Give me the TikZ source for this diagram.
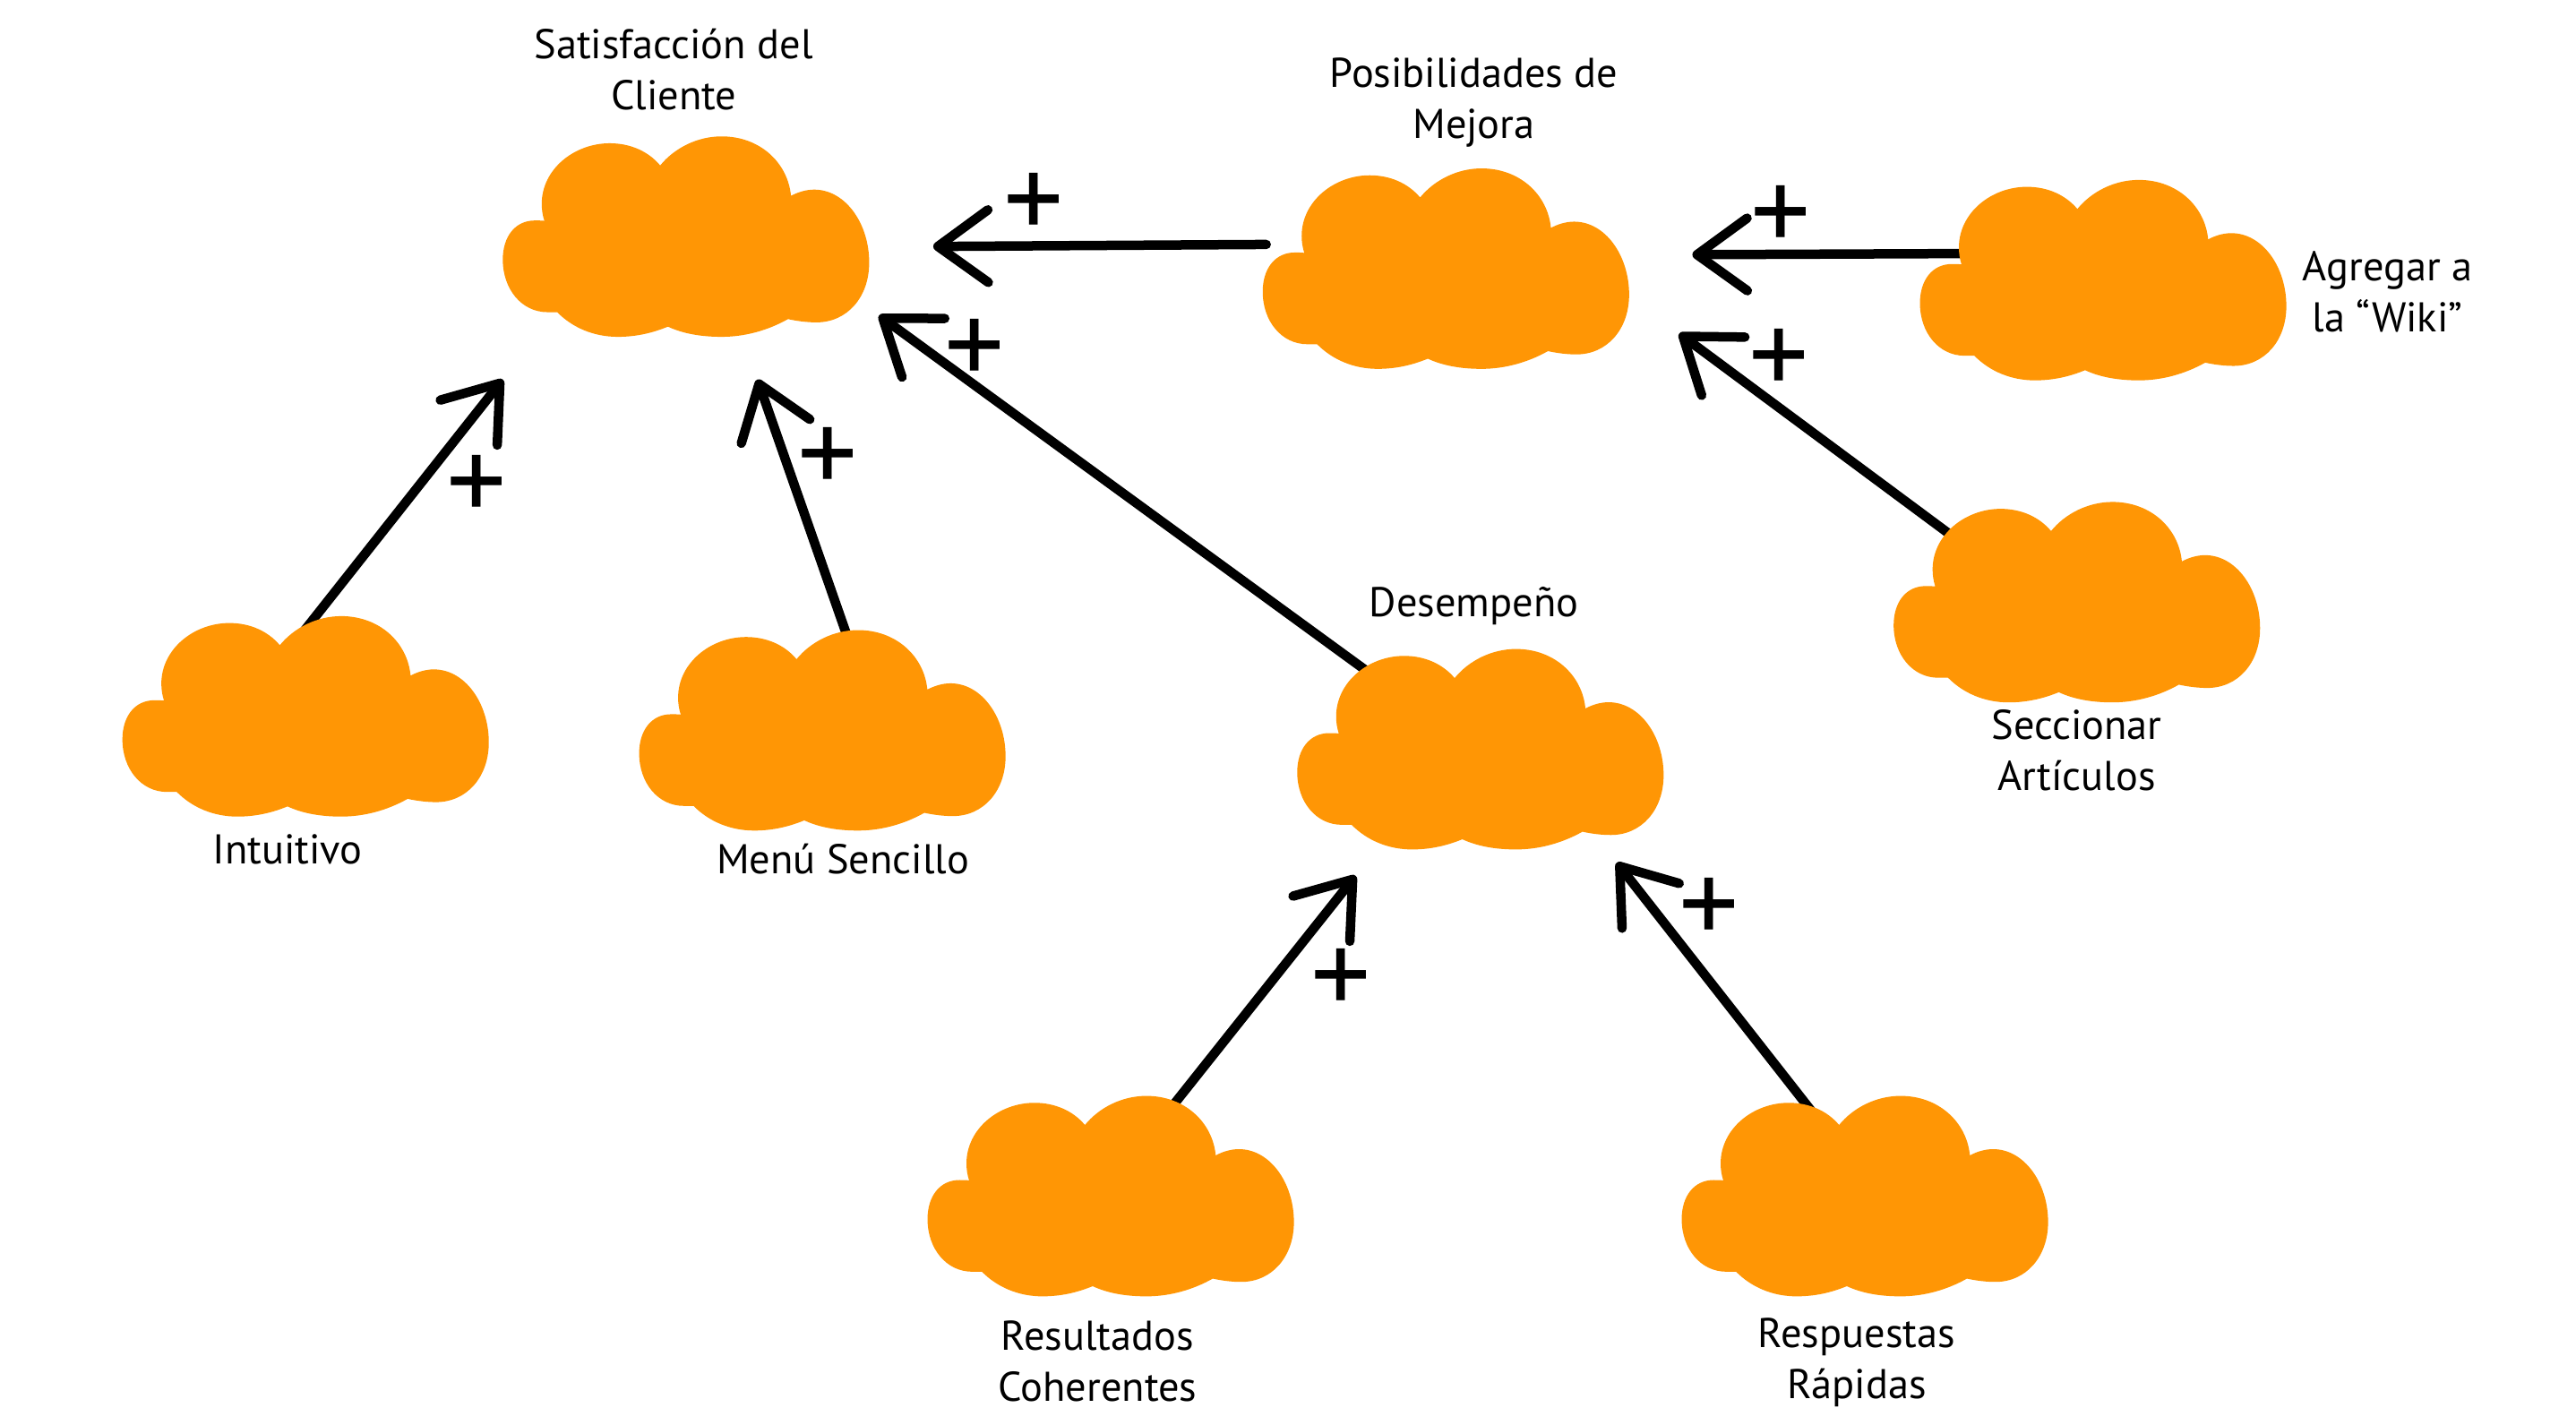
\documentclass[tikz,border=0pt]{standalone}
\usepackage{fontspec}
\setmainfont{PT Sans}
\usetikzlibrary{arrows.meta,backgrounds}
\definecolor{cloudorange}{HTML}{FF9605}
\newcommand{\blob}[3]{%
  \fill[cloudorange,shift={(#2,#3)}] (-86.2,-9.6)
    .. controls (-87.3,-13) and (-87.8,-16.5) .. (-87.8,-19.9)
    .. controls (-87.8,-41) and (-68,-56.8) .. (-46.4,-56.8)
    .. controls (-34,-56.8) and (-23,-52) .. (-15.7,-43.3)
    .. controls (-7,-54) and (7,-61) .. (21.7,-61)
    .. controls (45,-61) and (62,-45) .. (63.9,-24.8)
    .. controls (68,-27) and (73,-28.6) .. (78,-28.6)
    .. controls (97,-28.6) and (111.5,-8) .. (111.5,15.8)
    .. controls (111.5,37) and (98,52.2) .. (79.4,52.2)
    .. controls (74,52.2) and (68,51.5) .. (62.1,50.2)
    .. controls (50,57) and (36,61) .. (21.7,61)
    .. controls (9,61) and (-2,59) .. (-11,54.8)
    .. controls (-20,58.5) and (-30,61) .. (-41.5,61)
    .. controls (-56,61) and (-69,55.5) .. (-78.4,46)
    .. controls (-80,46) and (-82,46) .. (-84.3,46)
    .. controls (-100,46) and (-111.5,32) .. (-111.5,14)
    .. controls (-111.5,0) and (-104,-9.8) .. (-92,-9.8)
    .. controls (-90,-9.8) and (-88,-9.8) .. (-86.2,-9.6) -- cycle;
  \node (#1) [cloudbox] at (#2,#3) {};}
\begin{document}
\begin{tikzpicture}[
    x=0.018344cm, y=-0.018344cm,
    cloudbox/.style={rectangle, inner sep=0pt, outer sep=0pt,
                     minimum width=25.81mm, minimum height=12.9mm},
    cloudtext/.style={align=center, font=\fontsize{13.2}{16.2}\selectfont},
    link/.style={line width=1.05mm, line cap=round,
                 -{Straight Barb[length=5.6mm,width=8.1mm,round]}},
    plustext/.style={font=\fontsize{38}{38}\selectfont, inner sep=0pt, yshift=-1mm}
]
\useasboundingbox (0,0) rectangle (1567.8,866.8);

\blob{satisfaccion}{417.5}{144}
\blob{posibilidades}{880}{163.5}
\blob{agregar}{1280}{170.5}
\blob{seccionar}{1264}{366.5}
\blob{desempeno}{901}{456}
\blob{intuitivo}{186}{436}
\blob{menu}{500.5}{444.5}
\blob{resultados}{676}{728}
\blob{respuestas}{1135}{728}

\node (satisfaccionText) [cloudtext] at (410,42.5) {Satisfacción del\\Cliente};
\node (posibilidadesText) [cloudtext] at (897,62.5) {Posibilidades de\\Mejora};
\node (agregarText) [cloudtext] at (1453,177.5) {Agregar a\\la “Wiki”};
\node (seccionarText) [cloudtext] at (1264,456.5) {Seccionar\\Artículos};
\node (desempenoText) [cloudtext] at (897,369) {Desempeño};
\node (intuitivoText) [cloudtext] at (175,517) {Intuitivo};
\node (menuText) [cloudtext] at (513,523) {Menú Sencillo};
\node (resultadosText) [cloudtext] at (668,828.5) {Resultados\\Coherentes};
\node (respuestasText) [cloudtext] at (1130,829) {Respuestas\\Rápidas};

% free ends of the arrows
\coordinate (tipIntuitivo) at (306,231);
\coordinate (tipMenu) at (461,231);
\coordinate (tipDesempeno) at (535,192);
\coordinate (tipPosibilidades) at (568,150);
\coordinate (tipAgregar) at (1030,155);
\coordinate (tipSeccionar) at (1022,203);
\coordinate (tipResultados) at (825,533);
\coordinate (tipRespuestas) at (984,525);

\begin{scope}[on background layer]
\draw [link] (intuitivo.112.8) -- (tipIntuitivo);
\draw [link] (menu.57.5) -- (tipMenu);
\draw [link] (desempeno.146.7) -- (tipDesempeno);
\draw [link, shorten <=7.15mm] (posibilidades.168.3) -- (tipPosibilidades);
\draw [link] (agregar.167.5) -- (tipAgregar);
\draw [link] (seccionar.153.2) -- (tipSeccionar);
\draw [link] (resultados.58.1) -- (tipResultados);
\draw [link] (respuestas.119.7) -- (tipRespuestas);
\end{scope}

\node (plusIntuitivo) [plustext] at (290,292) {+};
\node (plusMenu) [plustext] at (504,275) {+};
\node (plusDesempeno) [plustext] at (593,209) {+};
\node (plusPosibilidades) [plustext] at (629,120) {+};
\node (plusAgregar) [plustext] at (1084,128) {+};
\node (plusSeccionar) [plustext] at (1083,215) {+};
\node (plusResultados) [plustext] at (816,592) {+};
\node (plusRespuestas) [plustext] at (1040,549) {+};
\end{tikzpicture}
\end{document}
